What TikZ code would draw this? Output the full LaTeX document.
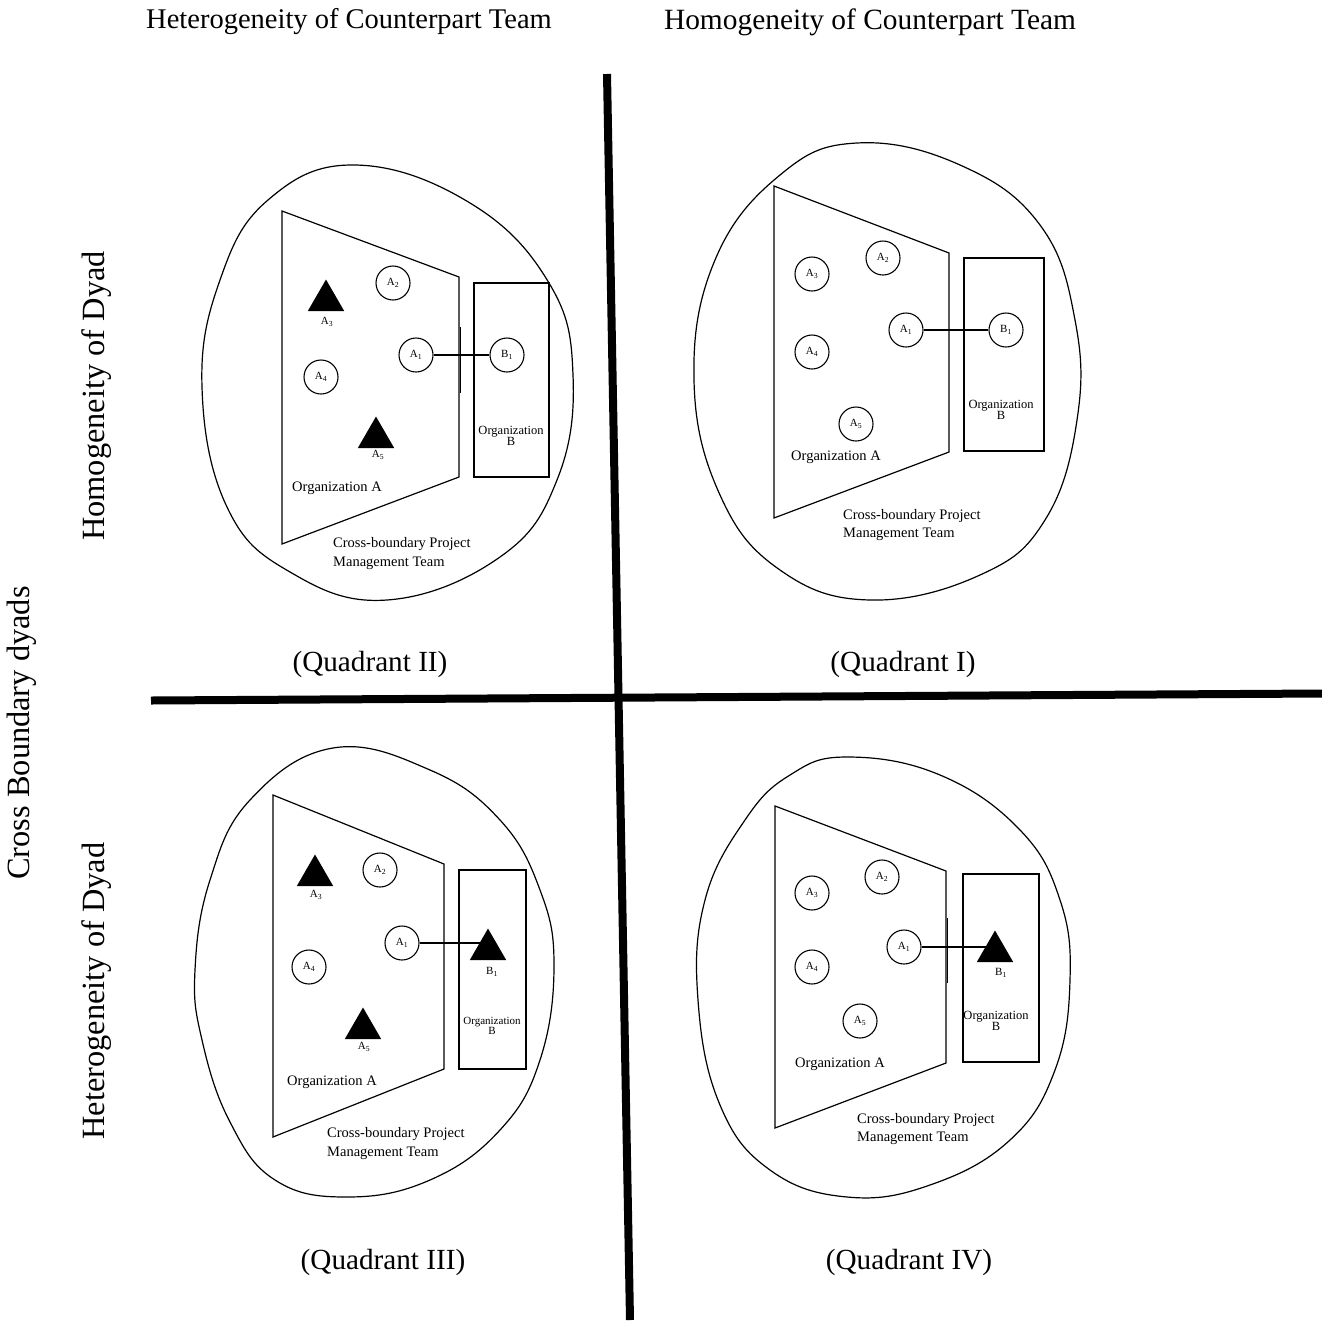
\documentclass[tikz,border=0pt]{standalone}
\usepackage{fontspec}
\setmainfont{Liberation Serif}
\usetikzlibrary{shapes.geometric}
\pgfdeclarelayer{paper}
\pgfdeclarelayer{under}
\pgfsetlayers{paper,under,main}
\tikzset{
  outline/.style={draw, line width=1.2pt},
  axis/.style={line width=8pt},
  member/.style={circle, draw, line width=1.1pt, minimum size=34pt, inner sep=0pt, font=\fontsize{11}{12}\selectfont},
  tri/.style={regular polygon, regular polygon sides=3, fill=black, minimum size=42pt, inner sep=0pt},
  trilabel/.style={inner sep=0pt, font=\fontsize{11}{12}\selectfont},
  orgA/.style={inner sep=0pt, font=\fontsize{14.5}{18}\selectfont},
  orgB/.style={inner sep=0pt, align=center, font=\fontsize{12.5}{11}\selectfont},
  team/.style={inner sep=0pt, align=left, anchor=west, font=\fontsize{14.5}{18.7}\selectfont},
  header/.style={inner sep=0pt, font=\fontsize{28.5}{32}\selectfont},
  sidehead/.style={inner sep=0pt, rotate=90, font=\fontsize{32.4}{36}\selectfont},
  quad/.style={inner sep=0pt, font=\fontsize{29.2}{32}\selectfont},
  link/.style={line width=1.1pt}
}
\begin{document}
\begin{tikzpicture}[x=1pt,y=-1pt]
\useasboundingbox (0,0) rectangle (1322,1320);
\begin{pgfonlayer}{paper}
\fill[white] (0,0) rectangle (1322,1320);
\end{pgfonlayer}

% headers
\node[header] (hh) at (349,22) {Heterogeneity of Counterpart Team};
\node[header, font=\fontsize{29.4}{32}\selectfont] (ho) at (870,22) {Homogeneity of Counterpart Team};
\node[sidehead] (hd) at (97,396) {Homogeneity of Dyad};
\node[sidehead] (td) at (97,991) {Heterogeneity of Dyad};
\node[sidehead] (cb) at (22,733) {Cross Boundary dyads};

% axes
\coordinate (vtop) at (607,74);
\coordinate (vbot) at (630,1320);
\coordinate (hl) at (151,700.5);
\coordinate (hr) at (1322,693.5);
\draw[axis] (vtop) -- (vbot);
\draw[axis] (hl) -- (hr);

% quadrant labels
\node[quad] (q2) at (370,664) {(Quadrant II)};
\node[quad] (q1) at (903,664) {(Quadrant I)};
\node[quad] (q3) at (383,1262) {(Quadrant III)};
\node[quad] (q4) at (909,1262) {(Quadrant IV)};

%%%%%%%% Quadrant II
\draw[outline] plot[smooth cycle, tension=0.7] coordinates {(355,165) (470,203) (549,283) (573,375) (557,480) (500,557) (387,600) (290,572) (227,507) (202,387) (220,280) (268,200)};
\draw[outline] (282,211) -- (459,277) -- (459,477) -- (282,544) -- cycle;
\draw[outline] (460.8,327) -- (460.8,393);
\draw[outline] (474,283) rectangle (549,477);
\node[member] (q2a2) at (393,283) {A\textsubscript{2}};
\node[member] (q2a1) at (416,355) {A\textsubscript{1}};
\node[member] (q2b1) at (507,355) {B\textsubscript{1}};
\node[member] (q2a4) at (321,377) {A\textsubscript{4}};
\node[tri] (q2a3) at (326,300.5) {};
\node[trilabel] (q2a3l) at (327,322) {A\textsubscript{3}};
\node[tri] (q2a5) at (376,437.5) {};
\node[trilabel] (q2a5l) at (378,455) {A\textsubscript{5}};
\node[orgA] (q2oa) at (337,488) {Organization A};
\node[orgB] (q2ob) at (511,436) {Organization\\B};
\node[team] (q2t) at (333,553.5) {Cross-boundary Project\\Management Team};
\draw[link] (q2a1) -- (q2b1);

%%%%%%%% Quadrant I
\draw[outline] plot[smooth cycle, tension=0.7] coordinates {(857,143) (960,165) (1040,225) (1075,320) (1077,420) (1045,520) (980,575) (870,600) (780,570) (720,495) (694,380) (715,260) (780,175)};
\draw[outline] (774,186) -- (949,253) -- (949,452) -- (774,518) -- cycle;
\draw[outline] (964,258) rectangle (1044,451);
\node[member] (q1a2) at (883,258) {A\textsubscript{2}};
\node[member] (q1a3) at (812,274) {A\textsubscript{3}};
\node[member] (q1a1) at (906,330) {A\textsubscript{1}};
\node[member] (q1b1) at (1006,330) {B\textsubscript{1}};
\node[member] (q1a4) at (812,352) {A\textsubscript{4}};
\node[member] (q1a5) at (856,424) {A\textsubscript{5}};
\node[orgA] (q1oa) at (836,457) {Organization A};
\node[orgB] (q1ob) at (1001,410) {Organization\\B};
\node[team] (q1t) at (843,525) {Cross-boundary Project\\Management Team};
\draw[link] (q1a1) -- (q1b1);

%%%%%%%% Quadrant III
\draw[outline] plot[smooth cycle, tension=0.7] coordinates {(333,748) (430,770) (500,820) (540,890) (554,965) (540,1060) (500,1130) (430,1180) (347,1197) (275,1180) (230,1122) (202,1040) (195,970) (210,880) (250,800)};
\draw[outline] (273,795) -- (444,864) -- (444,1069) -- (273,1137) -- cycle;
\draw[outline] (459,870) rectangle (526,1069);
\node[member] (q3a2) at (380,870) {A\textsubscript{2}};
\node[member] (q3a1) at (402,943) {A\textsubscript{1}};
\node[member] (q3a4) at (309,967) {A\textsubscript{4}};
\node[tri] (q3a3) at (315,875.5) {};
\node[trilabel] (q3a3l) at (316,895) {A\textsubscript{3}};
\node[tri] (q3a5) at (363,1028.5) {};
\node[trilabel] (q3a5l) at (364,1047) {A\textsubscript{5}};
\node[tri] (q3b1) at (488,949.5) {};
\node[trilabel] (q3b1l) at (492,972) {B\textsubscript{1}};
\node[orgA] (q3oa) at (332,1082) {Organization A};
\node[orgB, font=\fontsize{11}{9.5}\selectfont] (q3ob) at (492,1026) {Organization\\B};
\node[team] (q3t) at (327,1143.5) {Cross-boundary Project\\Management Team};
\begin{pgfonlayer}{under}
\draw[link] (q3a1.east) -- (q3a1.east -| q3b1.center);
\end{pgfonlayer}

%%%%%%%% Quadrant IV
\draw[outline] plot[smooth cycle, tension=0.7] coordinates {(847,757) (940,775) (1020,830) (1060,900) (1070,980) (1055,1070) (1010,1140) (930,1185) (847,1197) (770,1170) (720,1105) (698,1000) (705,900) (745,820) (790,775)};
\draw[outline] (775,806) -- (946,871) -- (946,1063) -- (775,1128) -- cycle;
\draw[outline] (947.5,918) -- (947.5,983);
\draw[outline] (963,874) rectangle (1039,1062);
\node[member] (q4a2) at (882,877) {A\textsubscript{2}};
\node[member] (q4a3) at (812,893) {A\textsubscript{3}};
\node[member] (q4a1) at (904,947) {A\textsubscript{1}};
\node[member] (q4a4) at (812,967) {A\textsubscript{4}};
\node[member] (q4a5) at (860,1021) {A\textsubscript{5}};
\node[tri] (q4b1) at (995,951.5) {};
\node[trilabel] (q4b1l) at (1001,973) {B\textsubscript{1}};
\node[orgA] (q4oa) at (840,1064) {Organization A};
\node[orgB] (q4ob) at (996,1021) {Organization\\B};
\node[team] (q4t) at (857,1129) {Cross-boundary Project\\Management Team};
\begin{pgfonlayer}{under}
\draw[link] (q4a1.east) -- (q4a1.east -| q4b1.center);
\end{pgfonlayer}
\end{tikzpicture}
\end{document}
